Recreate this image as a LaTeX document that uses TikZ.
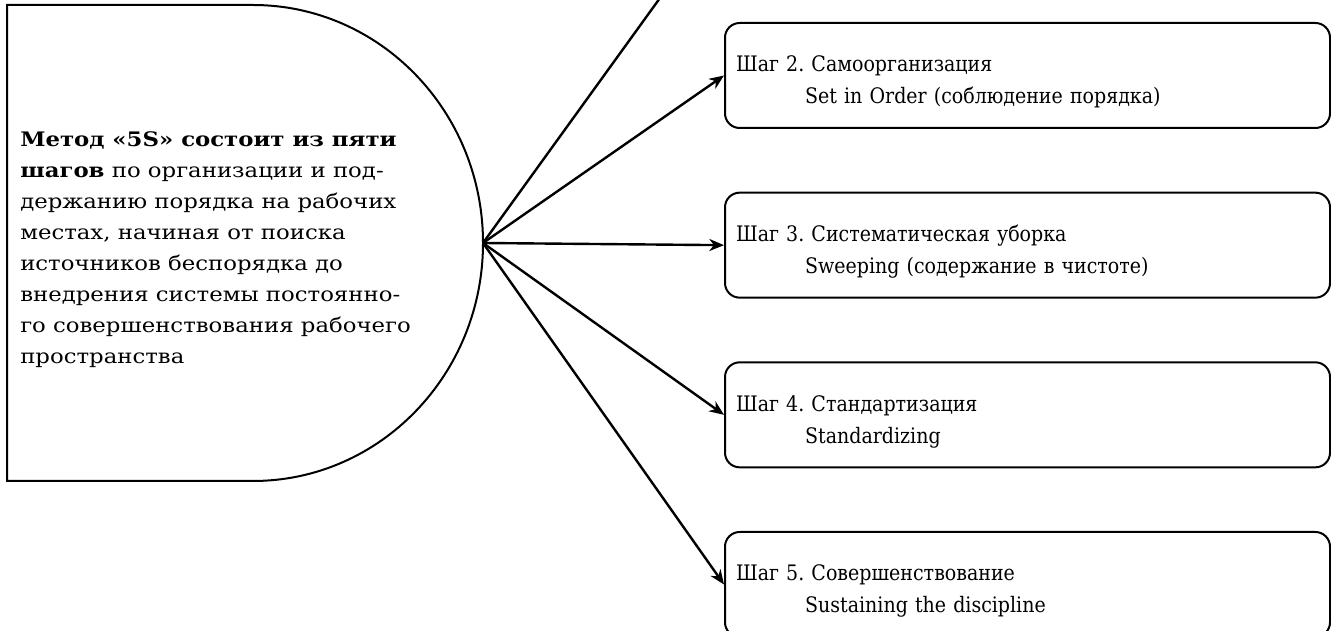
\documentclass[tikz,border=0pt]{standalone}
\usepackage{fontspec}
\setmainfont{DejaVu Serif}
\newfontfamily\methodfont[FakeStretch=1.14]{DejaVu Serif}
\newfontfamily\stepfont[FakeStretch=0.99]{DejaVu Serif Condensed}
\usetikzlibrary{arrows.meta,positioning}
\tikzset{>={Stealth[length=11pt,width=9pt,inset=3.5pt]}}
\frenchspacing

\begin{document}
\begin{tikzpicture}[x=0.75pt,y=0.75pt,
    stepbox/.style={draw,line width=1.5pt,rounded corners=11pt,
      minimum width=453.75pt,minimum height=78.75pt,text width=437pt,
      align=left,inner xsep=8.25pt,font=\stepfont\fontsize{16}{24}\selectfont},
    link/.style={->,line width=1.8pt}]
  \useasboundingbox (0,0) rectangle (1331,631);
  \clip (0,0) rectangle (1331,631);
  % left block
  \draw[line width=1.5pt] (253,626) -- (7,626) -- (7,150) -- (253,150)
    arc[start angle=-90,end angle=90,x radius=230,y radius=238] -- cycle;
  \coordinate (hub) at (483,388);
  \node[anchor=west,inner sep=0pt,align=left,
    font=\methodfont\fontsize{15}{23.25}\selectfont] (method) at (20,381)
    {\textbf{Метод «5S» состоит из пяти}\\
     \textbf{шагов} по организации и под-\\
     держанию порядка на рабочих\\
     местах, начиная от поиска\\
     источников беспорядка до\\
     внедрения системы постоянно-\\
     го совершенствования рабочего\\
     пространства};
  % steps
  \coordinate (step1) at (725,723);
  \node[stepbox] (step2) at (1027.5,555.5)
    {\rule{0pt}{22pt}Шаг 2. Самоорганизация\\\hspace*{51.75pt}Set in Order (соблюдение порядка)};
  \node[stepbox,below=47pt of step2] (step3)
    {\rule{0pt}{22pt}Шаг 3. Систематическая уборка\\\hspace*{51.75pt}Sweeping (содержание в чистоте)};
  \node[stepbox,below=47pt of step3] (step4)
    {\rule{0pt}{22pt}Шаг 4. Стандартизация\\\hspace*{51.75pt}Standardizing};
  \node[stepbox,below=47pt of step4] (step5)
    {\rule{0pt}{22pt}Шаг 5. Совершенствование\\\hspace*{51.75pt}Sustaining the discipline};
  % arrows
  \draw[link] (hub) -- (step1);
  \foreach \s in {2,...,5}
    \draw[link] (hub) -- (step\s.west);
\end{tikzpicture}
\end{document}
